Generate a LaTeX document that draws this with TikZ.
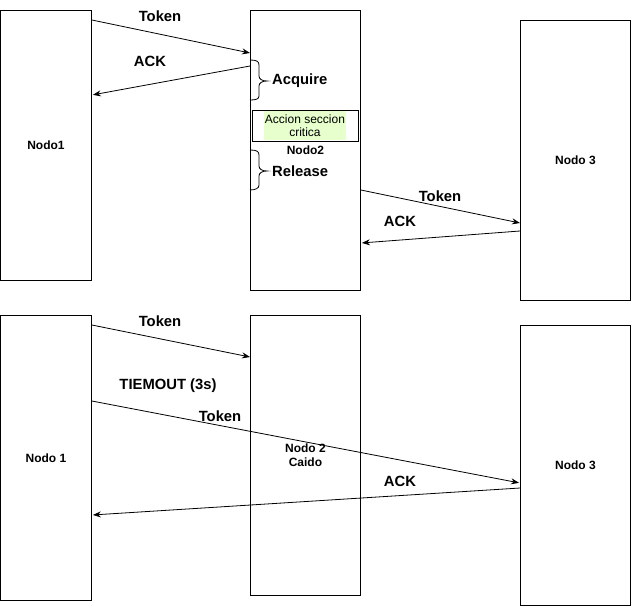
\documentclass[tikz,border=0pt]{standalone}
\usepackage{fontspec}
\setmainfont{Liberation Sans}
\usetikzlibrary{arrows.meta}
\definecolor{accionfill}{HTML}{E6FFCC}
\tikzset{
    nodo/.style={draw, line width=0.9pt, anchor=north west, minimum height=#1, inner sep=0pt,
        font=\fontsize{12}{14}\selectfont\bfseries, align=center},
    msg/.style={line width=0.8pt, -{Stealth[length=8pt,width=6pt]}},
    lbl/.style={font=\fontsize{14.8}{16}\selectfont\bfseries, inner sep=1pt},
    llave/.style={line width=0.8pt}
}
\begin{document}
\begin{tikzpicture}[x=1pt,y=-1pt]
    \useasboundingbox (0,0) rectangle (631,606);
    % arriba
    \node[nodo=270pt, minimum width=91pt] (n1) at (0,10) {Nodo1};
    \node[nodo=280pt, minimum width=110pt] (n2) at (250,10) {Nodo2};
    \node[nodo=280pt, minimum width=110pt] (n3) at (520,20) {Nodo 3};
    \draw[msg] ([yshift=-10pt]n1.north east) -- ([yshift=-43pt]n2.north west);
    \draw[msg, shorten >=1pt] ([yshift=-56pt]n2.north west) -- ([yshift=-85pt]n1.north east);
    \node[lbl] (tok1) at (160,16) {Token};
    \node[lbl] (ack1) at (150,61) {ACK};
    \draw[llave] (250,60) .. controls (256,60) and (259,61) .. (259,65) -- (259,76)
        .. controls (259,79) and (262,81) .. (267,81) .. controls (262,81) and (259,83) .. (259,86)
        -- (259,96) .. controls (259,99) and (256,100) .. (250,100);
    \node[lbl, anchor=west] (acq) at (271,81) {Acquire};
    \node[draw, line width=0.8pt, minimum width=106pt, minimum height=31pt] (marco) at (305,125.5) {};
    \node[fill=accionfill, inner xsep=1pt, minimum height=28pt, align=center, font=\fontsize{12}{13}\selectfont] (accion) at (305,125.5) {Accion seccion\\critica};
    \draw[llave] (250,150) .. controls (256,150) and (259,151) .. (259,155) -- (259,166)
        .. controls (259,169) and (262,171) .. (267,171) .. controls (262,171) and (259,173) .. (259,176)
        -- (259,185) .. controls (259,188) and (256,190) .. (250,190);
    \node[lbl, anchor=west] (rel) at (271,171) {Release};
    \draw[msg] ([yshift=-180pt]n2.north east) -- ([yshift=-203pt]n3.north west);
    \draw[msg, shorten >=1pt] ([yshift=-211pt]n3.north west) -- ([yshift=-233pt]n2.north east);
    \node[lbl] (tok2) at (440,196) {Token};
    \node[lbl] (ack2) at (400,221) {ACK};
    % abajo
    \node[nodo=285pt, minimum width=91pt] (m1) at (0,315) {Nodo 1};
    \node[nodo=280pt, minimum width=110pt] (m2) at (250,315) {Nodo 2\\Caido};
    \node[nodo=280pt, minimum width=110pt] (m3) at (520,325) {Nodo 3};
    \draw[msg] ([yshift=-10pt]m1.north east) -- ([yshift=-42pt]m2.north west);
    \node[lbl] (tok3) at (160,321) {Token};
    \node[lbl] (tout) at (168,386) {TIEMOUT (3s)};
    \draw[msg, shorten >=1pt] ([yshift=-86pt]m1.north east) -- ([yshift=-158pt]m3.north west);
    \node[lbl] (tok4) at (220,416) {Token};
    \draw[msg, shorten >=1pt] ([yshift=-163pt]m3.north west) -- ([yshift=-200pt]m1.north east);
    \node[lbl] (ack3) at (400,481) {ACK};
\end{tikzpicture}
\end{document}
